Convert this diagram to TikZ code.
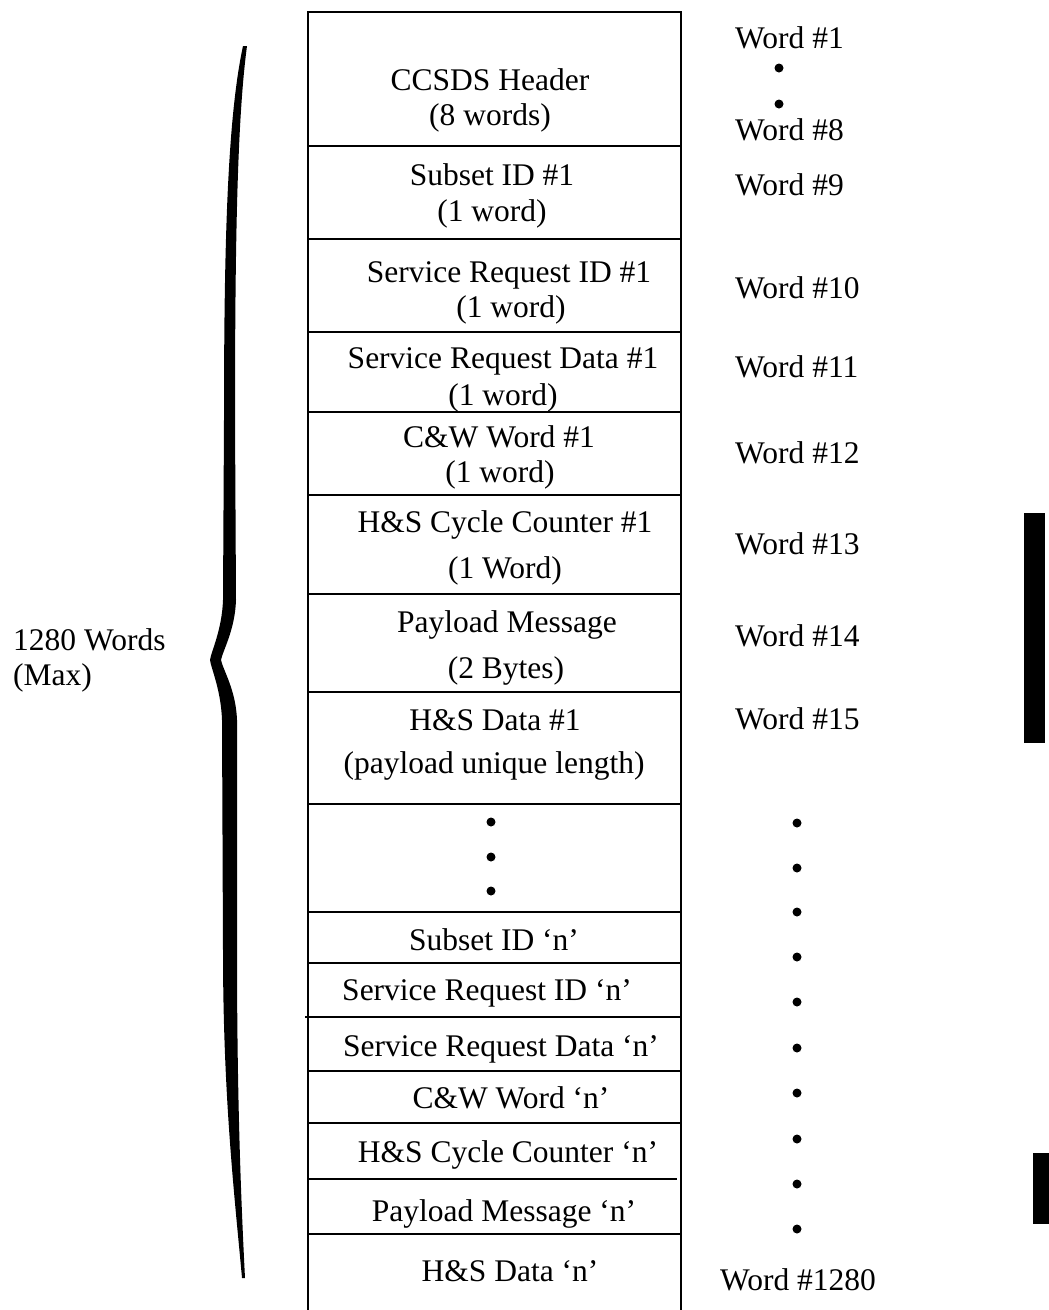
\documentclass[tikz,border=0pt]{standalone}
\usepackage{fontspec}
\setmainfont{Liberation Serif}
\begin{document}
\begin{tikzpicture}[x=1pt,y=-1pt,
  txt/.style={inner sep=0pt,anchor=base,font=\fontsize{31.5}{36}\selectfont},
  wlbl/.style={inner sep=0pt,anchor=base west,font=\fontsize{31.5}{36}\selectfont},
  cell/.style={line width=2.6pt},
  dotmark/.style={fill=black}]
\useasboundingbox (0,0) rectangle (1049,1310);
% frame
\draw[cell] (308,1312) -- (308,12) -- (681,12) -- (681,1312);
\foreach \yy in {146,239,332,412,495,594,692,804,912,963,1071,1123,1234}
  \draw[cell] (308,\yy) -- (681,\yy);
\draw[cell] (305,1017) -- (681,1017);
\draw[cell] (308,1179) -- (677,1179);
% cell texts
\node[txt] (t1a) at (490,90) {CCSDS Header};
\node[txt] (t1b) at (490,125) {(8 words)};
\node[txt] (t2a) at (492,185) {Subset ID \#1};
\node[txt] (t2b) at (492,221) {(1 word)};
\node[txt] (t3a) at (509,282) {Service Request ID \#1};
\node[txt] (t3b) at (511,317) {(1 word)};
\node[txt] (t4a) at (503,368) {Service Request Data \#1};
\node[txt] (t4b) at (503,405) {(1 word)};
\node[txt] (t5a) at (499,447) {C\&W Word \#1};
\node[txt] (t5b) at (500,482) {(1 word)};
\node[txt] (t6a) at (505,532) {H\&S Cycle Counter \#1};
\node[txt] (t6b) at (505,578) {(1 Word)};
\node[txt] (t7a) at (507,632) {Payload Message};
\node[txt] (t7b) at (506,678) {(2 Bytes)};
\node[txt] (t8a) at (495,730) {H\&S Data \#1};
\node[txt] (t8b) at (494,773) {(payload unique length)};
\foreach \yy in {822,857,891} \fill[dotmark] (491,\yy) circle (4.5);
\node[txt] (n1) at (494,950) {Subset ID ‘n’};
\node[txt] (n2) at (487,1000) {Service Request ID ‘n’};
\node[txt] (n3) at (501,1056) {Service Request Data ‘n’};
\node[txt] (n4) at (511,1108) {C\&W Word ‘n’};
\node[txt] (n5) at (508,1162) {H\&S Cycle Counter ‘n’};
\node[txt] (n6) at (504,1221) {Payload Message ‘n’};
\node[txt] (n7) at (510,1281) {H\&S Data ‘n’};
% right labels
\node[wlbl] (w1) at (735,48) {Word \#1};
\fill[dotmark] (779,68) circle (4.5);
\fill[dotmark] (779,104) circle (4.5);
\node[wlbl] (w8) at (735,140) {Word \#8};
\node[wlbl] (w9) at (735,195) {Word \#9};
\node[wlbl] (w10) at (735,298) {Word \#10};
\node[wlbl] (w11) at (735,377) {Word \#11};
\node[wlbl] (w12) at (735,463) {Word \#12};
\node[wlbl] (w13) at (735,554) {Word \#13};
\node[wlbl] (w14) at (735,646) {Word \#14};
\node[wlbl] (w15) at (735,729) {Word \#15};
\foreach \yy in {823,868,912,957,1002,1048,1093,1139,1184,1229}
  \fill[dotmark] (797,\yy) circle (4.5);
\node[txt] (w1280) at (798,1290) {Word \#1280};
% left label
\node[wlbl] (lbl1) at (13,650) {1280 Words};
\node[wlbl] (lbl2) at (13,685) {(Max)};
% brace
\fill (247,46) .. controls (237,120) and (235,250) .. (235,420)
  -- (236,600) .. controls (235,630) and (223,650) .. (221,660)
  .. controls (223,670) and (236,690) .. (237,720)
  -- (237,950) .. controls (237,1100) and (241,1200) .. (245,1278)
  -- (242,1278) .. controls (235,1200) and (223,1100) .. (223,950)
  -- (222,720) .. controls (221,690) and (211,668) .. (210,660)
  .. controls (211,652) and (222,630) .. (223,600)
  -- (224,420) .. controls (224,250) and (227,120) .. (243,46) -- cycle;
% bars
\fill (1024,513) rectangle (1045,743);
\fill (1033,1153) rectangle (1049,1224);
\end{tikzpicture}
\end{document}
